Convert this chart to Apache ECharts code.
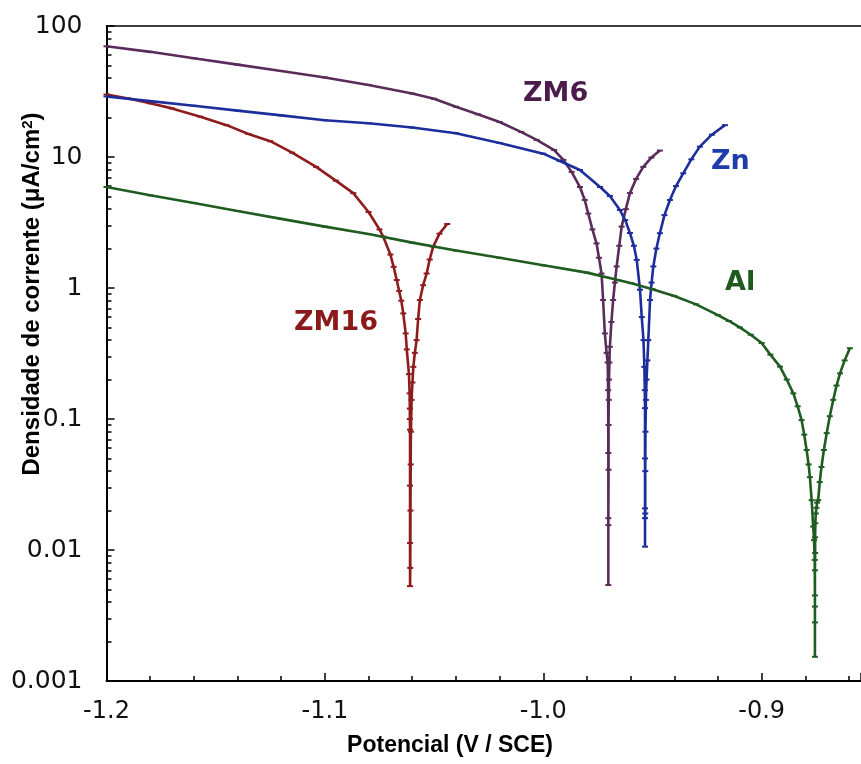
<!DOCTYPE html>
<html>
<head>
<meta charset="utf-8">
<script src="https://cdn.jsdelivr.net/npm/echarts@6/dist/echarts.min.js"></script>
<style>
  html, body { margin: 0; padding: 0; background: #ffffff; }
  #chart { width: 861px; height: 764px; }
</style>
</head>
<body>
<div id="chart"></div>
<script>
// Tafel polarization curves: current density (log scale) vs potential for Zn, Al and two Zn-Mg alloys.

const xTickLabels = ['-1.2', '-1.1', '-1.0', '-0.9'];
const yTickLabels = ['0.001', '0.01', '0.1', '1', '10', '100'];

// ZM16 (potential in V vs SCE, current density in µA/cm²)
const zm16Potential = [-1.200, -1.190, -1.180, -1.170, -1.157, -1.145, -1.135, -1.125, -1.115, -1.104,
  -1.095, -1.087, -1.080, -1.075, -1.0733, -1.0700, -1.0685, -1.0671, -1.0660, -1.0650,
  -1.0641, -1.0630, -1.0625, -1.0615, -1.0612, -1.0611, -1.0611, -1.0610, -1.0610, -1.0610,
  -1.0610, -1.0609, -1.0608, -1.0607, -1.0606, -1.0603, -1.0599, -1.0595, -1.0588, -1.0580,
  -1.0573, -1.0565, -1.0550, -1.0534, -1.0520, -1.0504, -1.0475, -1.0440];
const zm16Current = [30, 28, 25.7, 23.5, 20.3, 17.5, 15, 13.2, 10.8, 8.4,
  6.6, 5.3, 3.8, 2.8, 2.47, 1.8, 1.45, 1.15, 0.95, 0.80,
  0.64, 0.45, 0.34, 0.22, 0.157, 0.12, 0.10, 0.083, 0.031, 0.0113,
  0.0053, 0.0073, 0.02, 0.045, 0.08, 0.14, 0.19, 0.25, 0.32, 0.40,
  0.58, 0.81, 1.05, 1.29, 1.65, 2.07, 2.6, 3.08];

// ZM6
const zm6Potential = [-1.200, -1.180, -1.160, -1.140, -1.120, -1.100, -1.080, -1.060, -1.050, -1.040,
  -1.030, -1.020, -1.010, -1.003, -0.995, -0.9908, -0.9870, -0.9832, -0.9810, -0.9794,
  -0.9775, -0.9756, -0.9745, -0.9733, -0.9726, -0.9718, -0.9710, -0.9705, -0.9703, -0.9702,
  -0.9702, -0.9702, -0.9702, -0.9701, -0.9701, -0.9700, -0.9699, -0.9697, -0.9695, -0.9688,
  -0.9680, -0.9672, -0.9664, -0.9652, -0.9641, -0.9622, -0.9603, -0.9575, -0.9542, -0.9505,
  -0.9466];
const zm6Current = [70, 63.5, 56.7, 50.7, 45.3, 40.5, 35.5, 30.5, 27.8, 24.2,
  21.2, 18.5, 15.5, 13.5, 11.3, 9.5, 7.7, 5.9, 4.7, 3.7,
  2.8, 2.19, 1.7, 1.29, 0.81, 0.45, 0.32, 0.27, 0.166, 0.055,
  0.0175, 0.0054, 0.0155, 0.041, 0.09, 0.14, 0.2, 0.27, 0.356, 0.55,
  0.81, 1.1, 1.46, 2.1, 2.94, 4.0, 5.3, 6.8, 8.4, 9.9,
  11.2];

// Zn
const znPotential = [-1.200, -1.180, -1.160, -1.140, -1.120, -1.100, -1.080, -1.060, -1.040, -1.020,
  -1.000, -0.9924, -0.9832, -0.9740, -0.9695, -0.9649, -0.9625, -0.9603, -0.9585, -0.9572,
  -0.9557, -0.9549, -0.9541, -0.9537, -0.9535, -0.9534, -0.9534, -0.9534, -0.9534, -0.9534,
  -0.9533, -0.9533, -0.9532, -0.9530, -0.9527, -0.9523, -0.9519, -0.9511, -0.9504, -0.9496,
  -0.9482, -0.9466, -0.9445, -0.9420, -0.9392, -0.9359, -0.9322, -0.9283, -0.9228, -0.9168];
const znCurrent = [29, 26.7, 24.6, 22.6, 20.8, 19.1, 18.1, 16.8, 15.2, 12.8,
  10.6, 9.32, 7.96, 5.9, 5.04, 3.94, 3.3, 2.63, 2.1, 1.64,
  0.97, 0.60, 0.40, 0.25, 0.166, 0.121, 0.050, 0.0208, 0.0106, 0.0175,
  0.019, 0.04, 0.08, 0.14, 0.2, 0.28, 0.40, 0.81, 1.1, 1.46,
  2.0, 2.62, 3.6, 4.7, 6.0, 7.5, 9.6, 12.0, 14.8, 17.5];

// Al
const alPotential = [-1.200, -1.180, -1.160, -1.140, -1.120, -1.100, -1.080, -1.060, -1.040, -1.020,
  -1.000, -0.980, -0.960, -0.950, -0.940, -0.930, -0.920, -0.915, -0.910, -0.905,
  -0.900, -0.896, -0.8916, -0.8885, -0.8855, -0.8835, -0.8817, -0.8805, -0.8794, -0.8785,
  -0.8779, -0.8771, -0.8764, -0.8760, -0.8757, -0.8756, -0.8756, -0.8756, -0.8756, -0.8756,
  -0.8755, -0.8755, -0.8754, -0.8752, -0.8749, -0.8746, -0.8741, -0.8734, -0.8726, -0.8715,
  -0.8702, -0.8688, -0.8672, -0.8657, -0.8641, -0.8620, -0.8596];
const alCurrent = [5.9, 5.1, 4.46, 3.87, 3.37, 2.94, 2.58, 2.22, 1.93, 1.70,
  1.49, 1.31, 1.09, 0.98, 0.87, 0.75, 0.62, 0.56, 0.50, 0.44,
  0.38, 0.31, 0.251, 0.20, 0.157, 0.125, 0.098, 0.076, 0.058, 0.045,
  0.036, 0.024, 0.0151, 0.0119, 0.0084, 0.0045, 0.0028, 0.00153, 0.0037, 0.007,
  0.0095, 0.0125, 0.016, 0.019, 0.021, 0.023, 0.024, 0.033, 0.043, 0.058,
  0.078, 0.105, 0.14, 0.18, 0.223, 0.28, 0.347];

const seriesNames = ['ZM16', 'ZM6', 'Zn', 'Al'];
const seriesColors = ['#8e1c1c', '#5a2c5a', '#1d2e9c', '#1f5c1f'];

function pairs(potential, current) {
  return potential.map((v, i) => [v, current[i]]);
}

// Minor ticks at 2..9 within each decade, as log10 positions on a helper axis
const minorLog = [];
for (let d = -3; d < 2; d++) {
  for (let m = 2; m <= 9; m++) minorLog.push(d + Math.log10(m));
}

const chart = echarts.init(document.getElementById('chart'), null, { renderer: 'canvas' });

const lineSeries = [
  pairs(zm16Potential, zm16Current),
  pairs(zm6Potential, zm6Current),
  pairs(znPotential, znCurrent),
  pairs(alPotential, alCurrent)
].map((data, k) => ({
  type: 'line',
  name: seriesNames[k],
  data: data,
  xAxisIndex: 0,
  yAxisIndex: 0,
  symbol: 'rect',
  symbolSize: [6, 2],
  showSymbol: true,
  lineStyle: { width: 2.6, color: seriesColors[k] },
  itemStyle: { color: seriesColors[k] },
  emphasis: { disabled: true },
  z: 3 + k
}));

const tickFont = '"DejaVu Sans", sans-serif';
const labelFont = '"DejaVu Sans", sans-serif';
const titleFont = '"Liberation Sans", Arial, sans-serif';
const xMin = -1.2;
const xMax = -0.8545;

chart.setOption({
  animation: false,
  backgroundColor: '#ffffff',
  grid: { left: 106.5, top: 26, right: 0, height: 655, show: false },
  xAxis: [
    {
      type: 'value', min: xMin, max: xMax, interval: 0.1,
      axisLine: { onZero: false, lineStyle: { color: '#000', width: 2 } },
      axisTick: { inside: true, length: 8, lineStyle: { color: '#000', width: 1.5 } },
      minorTick: { show: true, splitNumber: 5, length: 5, lineStyle: { color: '#000', width: 1.5 } },
      splitLine: { show: false },
      axisLabel: {
        showMaxLabel: false, margin: 19, fontSize: 24, color: '#111',
        fontFamily: tickFont,
        formatter: (v, i) => xTickLabels[i] || ''
      }
    },
    {
      type: 'value', min: xMin, max: xMax, position: 'top',
      axisLine: { onZero: false, lineStyle: { color: '#000', width: 1.5 } },
      axisTick: { show: false }, axisLabel: { show: false }, splitLine: { show: false }
    }
  ],
  yAxis: [
    {
      type: 'log', logBase: 10, min: 0.001, max: 100,
      axisLine: { onZero: false, lineStyle: { color: '#000', width: 2 } },
      axisTick: { inside: true, length: 8, lineStyle: { color: '#000', width: 1.5 } },
      splitLine: { show: false },
      axisLabel: {
        margin: 24, fontSize: 25, color: '#111',
        fontFamily: tickFont,
        formatter: (v, i) => yTickLabels[i] || ''
      }
    },
    {
      type: 'value', min: -3, max: 2, position: 'left',
      axisLine: { show: false },
      axisLabel: { show: false },
      splitLine: { show: false },
      axisTick: { show: true, inside: true, length: 5, customValues: minorLog,
        lineStyle: { color: '#000', width: 1.5 } }
    }
  ],
  series: lineSeries,
  graphic: [
    { type: 'text', left: 523, top: 80,
      style: { text: 'ZM6', fill: '#4a1c4b', font: 'bold 27px ' + labelFont } },
    { type: 'text', left: 711, top: 148,
      style: { text: 'Zn', fill: '#1f3caa', font: 'bold 27px ' + labelFont } },
    { type: 'text', left: 725, top: 269,
      style: { text: 'Al', fill: '#1f5a1f', font: 'bold 27px ' + labelFont } },
    { type: 'text', left: 294, top: 309,
      style: { text: 'ZM16', fill: '#8b1a1a', font: 'bold 27px ' + labelFont } },
    { type: 'text', x: 450, y: 746,
      style: { text: 'Potencial (V / SCE)', fill: '#000', align: 'center', verticalAlign: 'middle',
        font: 'bold 23px ' + titleFont } },
    { type: 'text', x: 32, y: 294, rotation: Math.PI / 2,
      style: {
        text: '{t|Densidade de corrente (μA/cm}{s|2}{t|)}',
        align: 'center', verticalAlign: 'middle',
        rich: {
          t: { fill: '#000', font: 'bold 24px ' + titleFont, verticalAlign: 'bottom' },
          s: { fill: '#000', font: 'bold 15px ' + titleFont, verticalAlign: 'top' }
        }
      } }
  ]
});
</script>
</body>
</html>
